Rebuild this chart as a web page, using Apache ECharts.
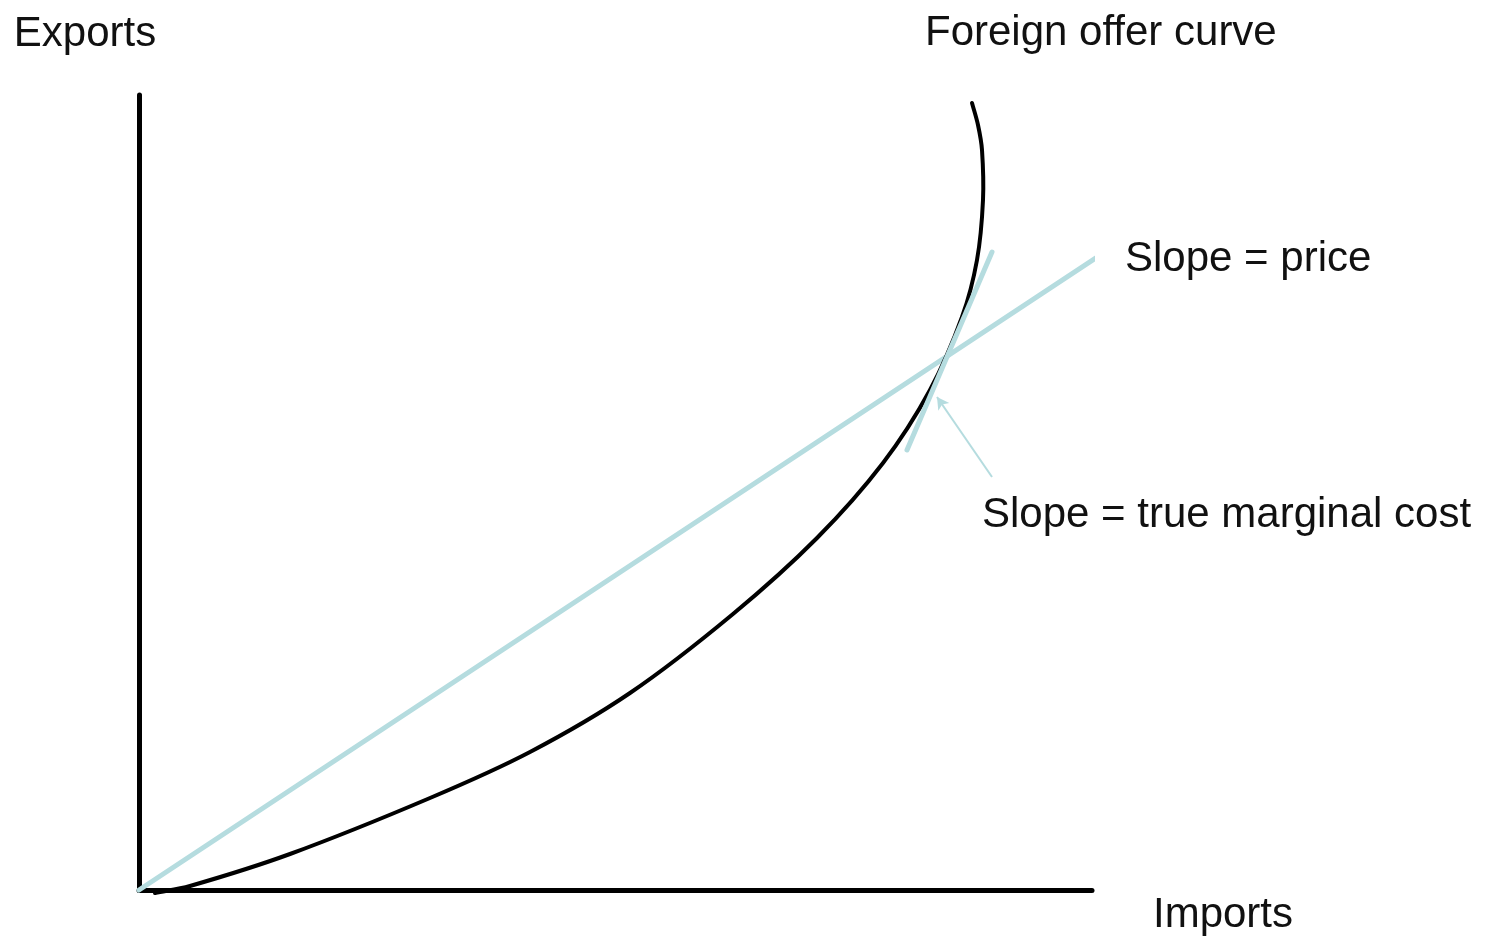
<!DOCTYPE html>
<html>
<head>
<meta charset="utf-8">
<script src="https://cdn.jsdelivr.net/npm/echarts@6/dist/echarts.min.js"></script>
<style>
html,body{margin:0;padding:0;background:#fff;}
#chart{width:1488px;height:936px;}
</style>
</head>
<body>
<div id="chart"></div>
<script>
// Data (chart units: imports on x, exports on y)
const offerCurve = [
  [16,-3],[51,4],[151,36],[291,92],[391,138],[491,197],[594,276],[678,352],
  [744,427],[791,500],[823,573],[838,630],[844,690],[843,740],[839,765],[833,787]
];
const priceLine = [[0,0],[966,638]];
const tangentLine = [[768,440],[853,638]];
const arrowFrom = [853,413];
const arrowTo = [798,493];
const labels = {
  x: 'Imports',
  y: 'Exports',
  curve: 'Foreign offer curve',
  price: 'Slope = price',
  mc: 'Slope = true marginal cost'
};

const FONT = '"Liberation Sans", Arial, sans-serif';
const BLUE = '#b5dcdf';

// smooth curve through the points (cubic Beziers, handles scaled by segment length), positions from the axes
function renderCurve(params, api) {
  if (params.dataIndex !== 0) return null;
  const pts = [];
  for (let i = 0; i < offerCurve.length; i++) {
    pts.push(api.coord([api.value(0, i), api.value(1, i)]));
  }
  const n = pts.length;
  const tan = pts.map(function (p, i) {
    const a = pts[Math.max(i - 1, 0)], b = pts[Math.min(i + 1, n - 1)];
    const dx = b[0] - a[0], dy = b[1] - a[1];
    const l = Math.hypot(dx, dy) || 1;
    return [dx / l, dy / l];
  });
  let d = 'M' + pts[0][0] + ' ' + pts[0][1];
  for (let i = 0; i < n - 1; i++) {
    const p1 = pts[i], p2 = pts[i + 1];
    const len = Math.hypot(p2[0] - p1[0], p2[1] - p1[1]) * 0.35;
    const c1 = [p1[0] + tan[i][0] * len, p1[1] + tan[i][1] * len];
    const c2 = [p2[0] - tan[i + 1][0] * len, p2[1] - tan[i + 1][1] * len];
    d += ' C' + c1[0] + ' ' + c1[1] + ' ' + c2[0] + ' ' + c2[1] + ' ' + p2[0] + ' ' + p2[1];
  }
  return {
    type: 'path',
    shape: {pathData: d},
    style: {stroke: '#000', lineWidth: 4, fill: null, lineCap: 'round'}
  };
}

const chart = echarts.init(document.getElementById('chart'));
chart.setOption({
  backgroundColor: '#ffffff',
  animation: false,
  grid: {left: 139, top: 95, width: 953, height: 795, containLabel: false, outerBoundsMode: 'none'},
  xAxis: {
    type: 'value', min: 0, max: 953,
    name: labels.x, nameLocation: 'end', nameGap: 61,
    nameTextStyle: {fontFamily: FONT, fontSize: 42, color: '#111', verticalAlign: 'top', align: 'left', lineHeight: 50},
    axisLine: {show: true, lineStyle: {color: '#000', width: 5}},
    axisTick: {show: false}, axisLabel: {show: false}, splitLine: {show: false}
  },
  yAxis: {
    type: 'value', min: 0, max: 795,
    name: labels.y, nameLocation: 'end', nameGap: 61,
    nameTextStyle: {fontFamily: FONT, fontSize: 42, color: '#111', align: 'center', verticalAlign: 'middle', padding: [0,108,0,0]},
    axisLine: {show: true, lineStyle: {color: '#000', width: 5}},
    axisTick: {show: false}, axisLabel: {show: false}, splitLine: {show: false}
  },
  series: [
    {
      type: 'line', data: priceLine, clip: false, symbol: 'none', z: 3,
      lineStyle: {color: BLUE, width: 5, cap: 'round'}
    },
    {
      type: 'custom', name: 'Foreign offer curve', data: offerCurve, clip: false, z: 4,
      renderItem: renderCurve
    },
    {
      type: 'line', data: tangentLine, clip: false, symbol: 'none', z: 5,
      lineStyle: {color: BLUE, width: 5, cap: 'round'},
      markLine: {
        silent: true, animation: false,
        symbol: ['none', 'arrow'], symbolSize: [10, 12],
        label: {show: false},
        lineStyle: {color: BLUE, width: 2, type: 'solid'},
        data: [[{coord: arrowFrom}, {coord: arrowTo}]]
      }
    }
  ],
  graphic: [
    {type: 'text', left: 925, top: 12, style: {text: labels.curve, font: '42px ' + FONT, fill: '#111'}},
    {type: 'text', left: 1125, top: 238, style: {text: labels.price, font: '42px ' + FONT, fill: '#111'}},
    {type: 'text', left: 982, top: 494, style: {text: labels.mc, font: '42px ' + FONT, fill: '#111'}}
  ]
});
</script>
</body>
</html>
